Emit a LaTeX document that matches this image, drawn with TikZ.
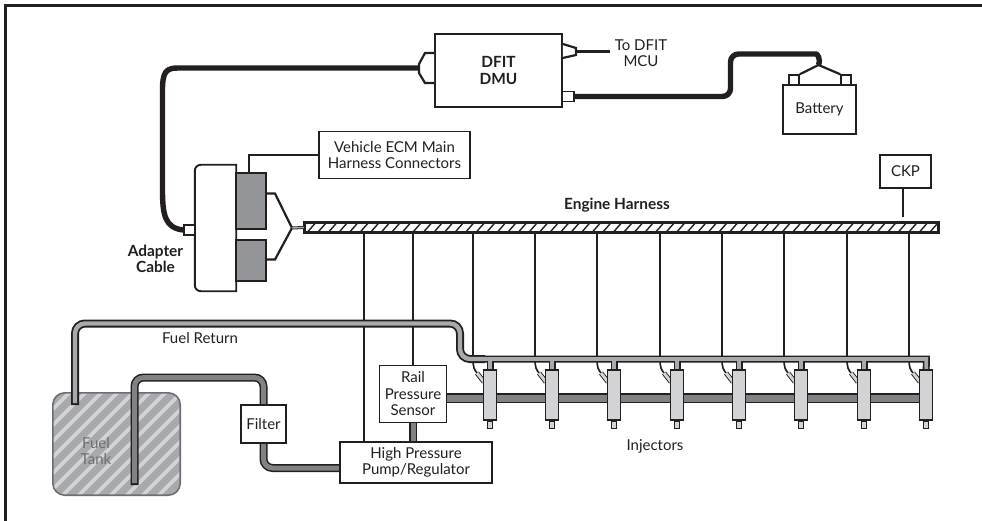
\documentclass[tikz,border=0pt]{standalone}
\usepackage{xcolor}
\usepackage{fontspec}
\setmainfont{Lato}
\usepackage{tikz}
\usetikzlibrary{backgrounds}
\definecolor{inkblack}{RGB}{35,31,32}
\definecolor{blockgray}{RGB}{147,149,152}
\definecolor{feedgray}{RGB}{128,130,133}
\definecolor{returngray}{RGB}{167,169,172}
\definecolor{bodygray}{RGB}{209,211,212}
\definecolor{tankedge}{RGB}{109,110,113}

\begin{document}
\begin{tikzpicture}[
    x=1pt, y=-1pt,
    every node/.style={text=inkblack, font=\fontsize{15}{16.4}\selectfont, align=center, inner sep=0pt},
    boldtext/.style={font=\fontsize{15.4}{16.2}\selectfont\bfseries},
    box/.style={rectangle, draw=inkblack, fill=white, line width=1.6pt},
    plain/.style={rectangle, draw=inkblack, fill=white, line width=1.5pt},
    wire/.style={draw=inkblack, line width=2pt},
    cable/.style={draw=inkblack, line width=5.4pt},
    lead/.style={draw=inkblack, line width=2.2pt},
    pipeedge/.style={draw=inkblack, line width=8pt},
    returncore/.style={draw=returngray, line width=4.4pt, shorten <=2pt},
    feedcore/.style={draw=feedgray, line width=5pt, shorten <=2pt},
    injector/.style={plain, fill=bodygray, minimum width=13pt, minimum height=50pt},
    injtip/.style={plain, fill=bodygray, minimum width=5pt, minimum height=7pt, line width=1.2pt},
    plug/.style={draw=inkblack, line width=.9pt, double=bodygray, double distance=3pt},
]
    \useasboundingbox (0,0) rectangle (982,521);

    % Outer frame
    \draw[inkblack, line width=3.4pt] (982,5.5) -- (5.5,5.5) -- (5.5,521);

    % DFIT module and battery
    \node[box, minimum width=127pt, minimum height=73pt] (dmu) at (498.5,70.5) {};
    \node[boldtext] (dmutext) at (dmu.center) {DFIT\\DMU};
    \node[plain, minimum width=12pt, minimum height=10pt] (dmuport) at (568,96.5) {};
    \node (mcutext) at (641,53) {To DFIT\\MCU};
    \node[box, minimum width=73pt, minimum height=49pt] (battery) at (819.5,109.5) {Battery};
    \node[plain, minimum width=10pt, minimum height=10pt] (postleft) at (794,80) {};
    \node[plain, minimum width=10pt, minimum height=10pt] (postright) at (846,80) {};
    \coordinate (postjoin) at (818.5,65);
    \draw[lead, fill=white] (dmu.north west |- 0,53) -- (425,53) -- (419,64) -- (419,73) -- (425,83) -- (dmu.north west |- 0,83);
    \draw[lead, fill=white] (dmu.north east |- 0,44) -- (576,48) -- (576,55) -- (dmu.north east |- 0,58);
    \draw[lead] (576,51.5) -- (610,51.5);
    \draw[lead] (postleft.north east) -- (postjoin) -- (postright.north west);
    \draw[cable, rounded corners=8pt] (dmuport.east) -- (730.5,96.5) -- (730.5,54) -- (808,54) [sharp corners] .. controls (817,54) and (821,58) .. (postjoin);

    % Adapter and ECM connectors
    \node[minimum width=41pt, minimum height=126pt] (adapter) at (215.5,228) {};
    \draw[inkblack, line width=1.9pt, fill=white] (adapter.north east) [rounded corners=6pt] -- (adapter.north west) -- (adapter.south west) [sharp corners] -- (adapter.south east) -- cycle;
    \node[box, fill=blockgray, minimum width=30pt, minimum height=56pt] (ecmtop) at (251,201) {};
    \node[box, fill=blockgray, minimum width=30pt, minimum height=41pt] (ecmbottom) at (251,260.5) {};
    \node[plain, minimum width=11pt, minimum height=10pt] (adapterport) at (189.5,230) {};
    \node[boldtext] (adaptertext) at (155.5,258.5) {Adapter\\Cable};
    \node[box, minimum width=151pt, minimum height=47pt] (ecmbox) at (394.5,155) {Vehicle ECM Main\\Harness Connectors};
    \draw[wire] (ecmbox.west) -- (249,155) -- (249,173);
    \draw[inkblack, line width=5.4pt] (418,68) -- (178,68) .. controls (166,68) and (162.5,72) .. (162.5,90) -- (162.5,190) .. controls (162.5,215) and (165,228) .. (adapterport.west);

    % Engine harness
    \node[box, line width=2.2pt, minimum width=633pt, minimum height=8.8pt] (harness) at (621.5,227.5) {};
    \foreach \i in {0,...,59}
        \draw[inkblack, line width=1.4pt] (308+10.55*\i,231.5) -- (315+10.55*\i,223.5);
    \draw[inkblack, line width=2.2pt] (harness.north west) rectangle (harness.south east);
    \node[boldtext] (harnesstext) at (617,205) {Engine Harness};
    \node[box, minimum width=51pt, minimum height=33pt] (ckp) at (905.5,171.5) {CKP};
    \coordinate (ckpend) at (903,217);
    \draw[wire] (ckp.south -| ckpend) -- (ckpend);
    \coordinate (fork) at (292,228);
    \draw[lead] (ecmtop.east |- 0,193.5) -- (275,193.5) -- (fork) -- (275,259.5) -- (ecmbottom.east |- 0,259.5);
    \draw[draw=inkblack, line width=.8pt, double=returngray, double distance=1.4pt] (fork) -- (harness.west);

    % Fuel system boxes
    \node[plain, minimum width=67pt, minimum height=57pt] (sensor) at (413,393.8) {Rail\\Pressure\\Sensor};
    \node[plain, minimum width=152pt, minimum height=41pt] (pump) at (416,462.5) {High Pressure\\Pump/Regulator};
    \node[plain, minimum width=45pt, minimum height=38pt] (filter) at (263.5,424) {Filter};
    \node (returntext) at (200,338) {Fuel Return};
    \node (injectortext) at (655,446) {Injectors};

    % Injectors
    \foreach \i [evaluate=\i as \x using round(489.5+62.4*(\i-1))] in {1,...,8} {
        \node[injector] (inj\i) at (\x,395) {};
        \node[injtip, anchor=north] (tip\i) at (inj\i.south) {};
    }

    \begin{scope}[on background layer]
        % Tank
        \node[minimum width=127pt, minimum height=102pt, fill=returngray, rounded corners=12pt] (tank) at (116.5,444) {};
        \begin{scope}
            \clip[rounded corners=12pt] (tank.north west) rectangle (tank.south east);
            \foreach \i in {0,...,15}
                \draw[bodygray, line width=3.8pt] (-70+16*\i,500) -- (40+16*\i,390);
        \end{scope}
        \draw[tankedge, line width=1.6pt, rounded corners=12pt] (tank.north west) rectangle (tank.south east);
        \node[text=tankedge] (tanktext) at (96,451) {Fuel\\Tank};

        % Feed line and high pressure rail
        \coordinate (pumpin) at (350,468);
        \coordinate (hpmid) at (447,398);
        \foreach \pipelayer in {pipeedge,feedcore} {
            \draw[\pipelayer, rounded corners=9pt] (134.5,485) -- (134.5,377.5) -- (filter.north |- 0,377.5) -- (filter.center);
            \draw[\pipelayer, rounded corners=9pt] (filter.center) -- (filter.south |- pumpin) -- (pumpin);
            \draw[\pipelayer] (sensor.center) -- (sensor.south |- pump.center);
        }
        \draw[inkblack, line width=10pt] (hpmid) -- (hpmid -| inj8.center);
        \draw[feedgray, line width=7pt] (hpmid) -- (hpmid -| inj8.center);

        % Harness wires
        \draw[wire] (364,233) -- (364,442);
        \draw[wire] (sensor.north |- harness.south) -- (sensor.north);
        \foreach \i in {1,...,8} {
            \coordinate (tap\i) at ([xshift=-17pt]inj\i.north |- 0,359);
            \draw[wire] (tap\i |- harness.south) -- (tap\i);
            \draw[wire, line width=1.6pt] (tap\i) .. controls ([yshift=-8pt]tap\i) and ([xshift=1pt,yshift=-11pt]tap\i) .. ([xshift=5pt,yshift=-15pt]tap\i);
            \draw[plug] ([xshift=4pt,yshift=-14pt]tap\i) -- ([xshift=11pt,yshift=-23pt]tap\i);
        }

        % Return line and fuel rail
        \foreach \pipelayer in {pipeedge,returncore} {
            \draw[\pipelayer, rounded corners=10pt] (75,405) -- (75,323.5) -- (460,323.5) -- (460,359) -- (485,359);
            \draw[\pipelayer, line width=0.875*\pgflinewidth] (475,359) -- (926.3,359) -- (inj8.center);
            \foreach \i in {1,...,7}
                \draw[\pipelayer, line width=0.875*\pgflinewidth] (inj\i.north |- 0,356.5) -- (inj\i.center);
        }
    \end{scope}
\end{tikzpicture}
\end{document}
